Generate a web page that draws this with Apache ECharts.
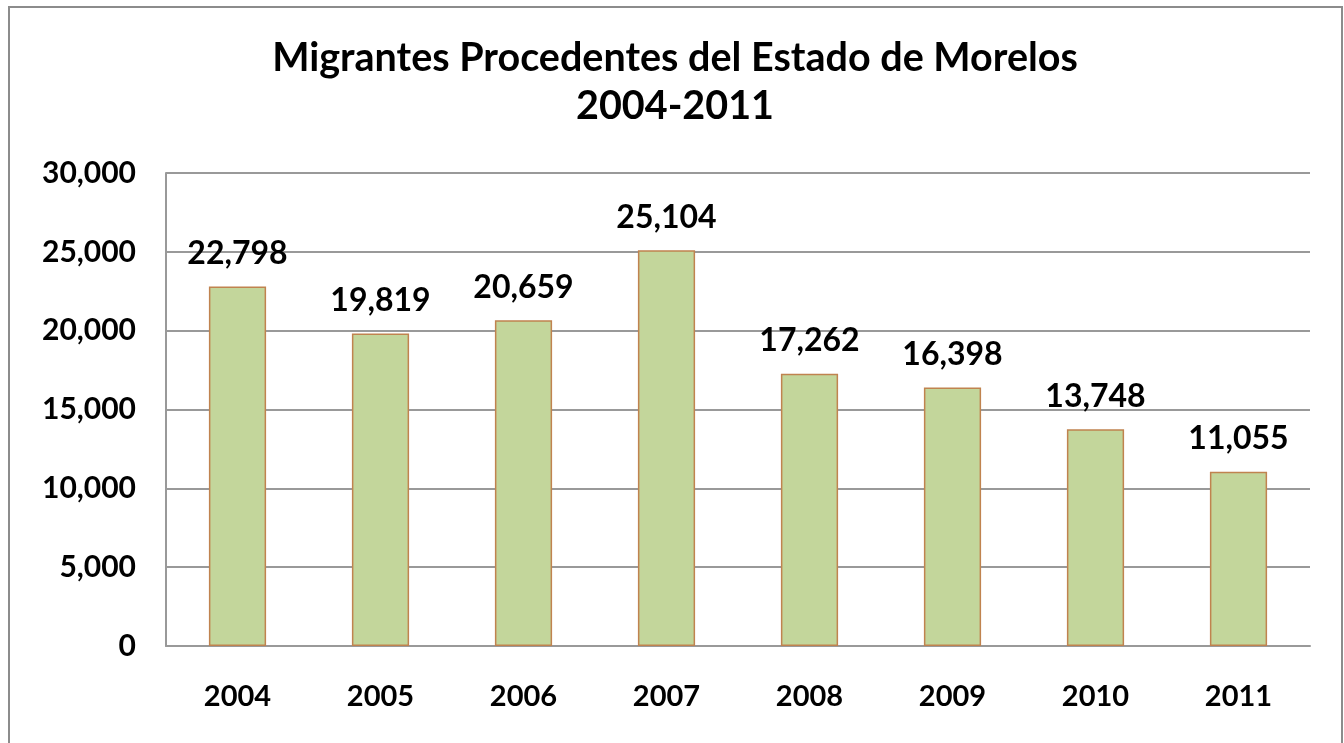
<!DOCTYPE html>
<html>
<head>
<meta charset="utf-8">
<script src="https://cdn.jsdelivr.net/npm/echarts@6/dist/echarts.min.js"></script>
<style>
html,body{margin:0;padding:0;background:#fff;}
#main{width:1344px;height:743px;}
</style>
</head>
<body>
<div id="main"></div>
<script>
const titleLines = ['Migrantes Procedentes del Estado de Morelos', '2004-2011'];
const categories = ['2004', '2005', '2006', '2007', '2008', '2009', '2010', '2011'];
const migrantes = [22798, 19819, 20659, 25104, 17262, 16398, 13748, 11055];
const yTicks = { min: 0, max: 30000, interval: 5000 };

const FONT = 'Lato, "Open Sans", sans-serif';
const fmt = v => Number(v).toLocaleString('en-US');

const chart = echarts.init(document.getElementById('main'), null, { renderer: 'canvas' });
chart.setOption({
  backgroundColor: '#ffffff',
  animation: false,
  graphic: [{
    type: 'rect',
    shape: { x: 9, y: 7, width: 1333, height: 760 },
    style: { fill: 'none', stroke: '#8c8c8c', lineWidth: 2 },
    silent: true,
    z: -1
  }],
  title: {
    text: titleLines.join('\n'),
    left: 670,
    textAlign: 'center',
    top: 29,
    textStyle: {
      fontFamily: FONT,
      fontWeight: 'bold',
      fontSize: 39.5,
      lineHeight: 48,
      color: '#000'
    }
  },
  grid: { left: 166, right: 34, top: 173, bottom: 97, containLabel: false },
  xAxis: {
    type: 'category',
    data: categories,
    axisLine: { show: true, lineStyle: { color: '#999', width: 2 } },
    axisTick: { show: false },
    axisLabel: {
      margin: 36,
      fontFamily: FONT,
      fontWeight: 'bold',
      fontSize: 29,
      color: '#000'
    }
  },
  yAxis: {
    type: 'value',
    min: yTicks.min,
    max: yTicks.max,
    interval: yTicks.interval,
    axisLine: { show: true, lineStyle: { color: '#999', width: 2 } },
    axisTick: { show: false },
    splitLine: { show: true, lineStyle: { color: '#999', width: 2 } },
    axisLabel: {
      margin: 30,
      fontFamily: FONT,
      fontWeight: 'bold',
      fontSize: 30,
      color: '#000',
      formatter: v => fmt(v)
    }
  },
  series: [{
    type: 'bar',
    data: migrantes,
    barWidth: '40%',
    itemStyle: { color: '#c3d69b', borderColor: '#c0834f', borderWidth: 1.5 },
    label: {
      show: true,
      position: 'top',
      distance: 17,
      fontFamily: FONT,
      fontWeight: 'bold',
      fontSize: 32,
      color: '#000',
      formatter: p => fmt(p.value)
    }
  }]
});
</script>
</body>
</html>
